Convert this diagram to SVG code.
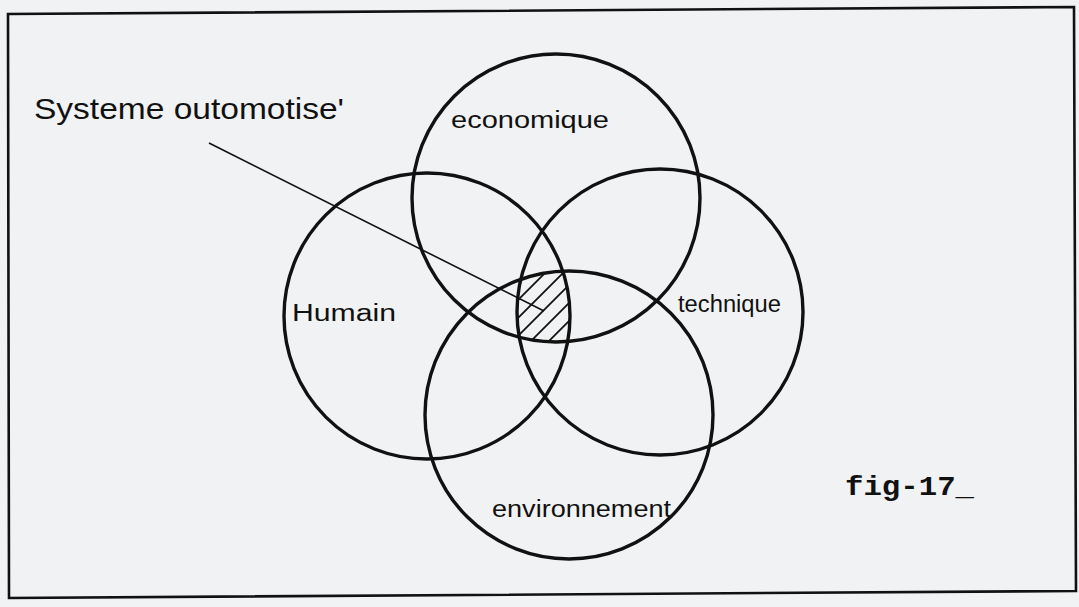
<svg xmlns="http://www.w3.org/2000/svg" width="1079" height="607" viewBox="0 0 1079 607">
<style>
.c{fill:none;stroke:#111;stroke-width:3.4}
.h{stroke:#111;stroke-width:1.8}
.t{font-family:"Liberation Sans","DejaVu Sans",sans-serif;fill:#111}
</style>
<defs>
<clipPath id="cH"><circle cx="427" cy="316" r="143"/></clipPath>
<clipPath id="cE"><circle cx="556" cy="198" r="144"/></clipPath>
<clipPath id="cT"><circle cx="660" cy="312" r="143"/></clipPath>
<clipPath id="cV"><circle cx="569" cy="415" r="144"/></clipPath>
</defs>
<rect width="1079" height="607" fill="#f1f2f3"/>
<path d="M8 14 L1074 7 L1076 591 L9 598 Z" fill="none" stroke="#111" stroke-width="2.6"/>
<g id="hatch" clip-path="url(#cH)"><g clip-path="url(#cE)"><g clip-path="url(#cT)"><g clip-path="url(#cV)">
<line class="h" x1="500" y1="300" x2="600" y2="200"/>
<line class="h" x1="500" y1="318" x2="600" y2="218"/>
<line class="h" x1="500" y1="336" x2="600" y2="236"/>
<line class="h" x1="500" y1="354" x2="600" y2="254"/>
<line class="h" x1="500" y1="372" x2="600" y2="272"/>
<line class="h" x1="500" y1="390" x2="600" y2="290"/>
<line class="h" x1="500" y1="408" x2="600" y2="308"/>
</g></g></g></g>
<g id="humain"><circle class="c" cx="427" cy="316" r="143"/><text class="t" x="292" y="321" font-size="23" textLength="104" lengthAdjust="spacingAndGlyphs">Humain</text></g>
<g id="economique"><circle class="c" cx="556" cy="198" r="144"/><text class="t" x="451" y="128" font-size="23" textLength="158" lengthAdjust="spacingAndGlyphs">economique</text></g>
<g id="technique"><circle class="c" cx="660" cy="312" r="143"/><text class="t" x="678" y="312" font-size="23" textLength="103" lengthAdjust="spacingAndGlyphs">technique</text></g>
<g id="environnement"><circle class="c" cx="569" cy="415" r="144"/><text class="t" x="492" y="517" font-size="23" textLength="179" lengthAdjust="spacingAndGlyphs">environnement</text></g>
<g id="systeme"><text class="t" x="34" y="119" font-size="30" textLength="310" lengthAdjust="spacingAndGlyphs">Systeme outomotise'</text></g>
<g id="connectors"><line x1="209" y1="143" x2="544" y2="311" stroke="#111" stroke-width="1.6"/></g>
<g id="caption"><text x="845" y="495" font-family="'Liberation Mono','DejaVu Sans Mono',monospace" font-size="28" font-weight="bold" fill="#111" textLength="129" lengthAdjust="spacingAndGlyphs">fig-17_</text></g>
</svg>
